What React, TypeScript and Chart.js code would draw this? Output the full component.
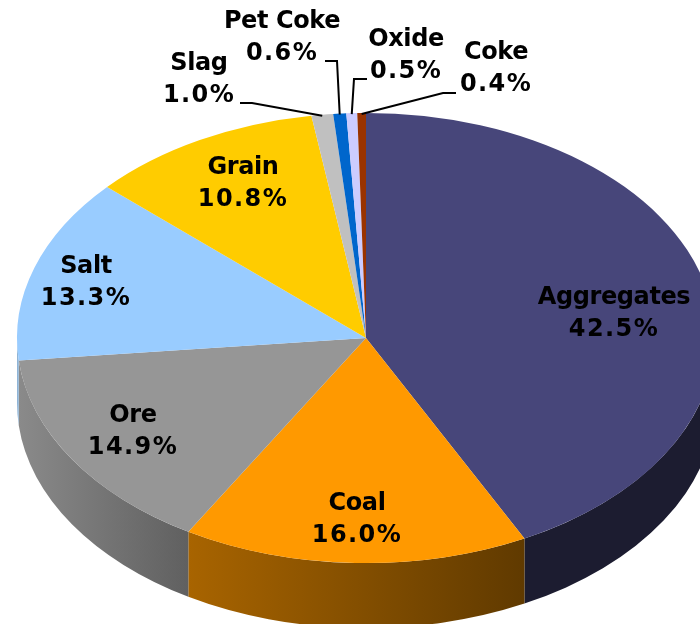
import React, { useEffect, useRef } from "react";
import { Chart, registerables } from "chart.js";

Chart.register(...registerables);

const categories = ["Aggregates", "Coal", "Ore", "Salt", "Grain", "Slag", "Pet Coke", "Oxide", "Coke"];
const shares = [42.5, 16.0, 14.9, 13.3, 10.8, 1.0, 0.6, 0.5, 0.4];
const topColors = ["#47467A", "#FF9900", "#969696", "#99CCFF", "#FFCC00", "#C0C0C0", "#0066CC", "#CCCCFF", "#993300"];
const wallLeft = ["#1C1C30", "#A86400", "#8A8A8A", "#8FB4D6", "#997A00", "#737373", "#003D7A", "#7A7A99", "#5C1F00"];
const wallRight = ["#1C1C30", "#603A00", "#606060", "#8FB4D6", "#997A00", "#737373", "#003D7A", "#7A7A99", "#5C1F00"];

// label anchor (centre x, first-line centre y)
const labelAnchors: [number, number][] = [
  [614, 298], [357, 504], [133, 416], [86, 267], [243, 168], [199, 64], [282, 22], [406, 40], [496, 53],
];
// leader polylines from label to slice rim; only the outer slices have one
const leaderElbows: ([number, number][] | null)[] = [
  null, null, null, null, null,
  [[240, 103], [252, 103]],
  [[325, 61], [337, 61]],
  [[367, 79], [354, 79]],
  [[456, 93], [443, 93]],
];

const SQUASH = 0.645;
const DEPTH = 65;
const LINE_GAP = 32;
const FONT = "bold 24px 'DejaVu Sans', sans-serif";

const pie3d = {
  id: "pie3d",
  beforeDatasetDraw(chart: any) {
    const { ctx } = chart;
    const arcs = chart.getDatasetMeta(0).data;
    ctx.save();
    arcs.forEach((arc: any, i: number) => {
      const { x, y, startAngle, endAngle, outerRadius } = arc;
      const ry = outerRadius * SQUASH;
      const a = Math.max(startAngle, 0);
      const b = Math.min(endAngle, Math.PI);
      if (b <= a) return;
      const g = ctx.createLinearGradient(x + outerRadius * Math.cos(b), 0, x + outerRadius * Math.cos(a), 0);
      g.addColorStop(0, wallLeft[i]);
      g.addColorStop(1, wallRight[i]);
      ctx.fillStyle = g;
      ctx.beginPath();
      ctx.ellipse(x, y, outerRadius, ry, 0, a, b);
      ctx.ellipse(x, y + DEPTH, outerRadius, ry, 0, b, a, true);
      ctx.closePath();
      ctx.fill();
    });
    ctx.restore();
    const first = arcs[0];
    ctx.save();
    ctx.translate(first.x, first.y);
    ctx.scale(1, SQUASH);
    ctx.translate(-first.x, -first.y);
  },
  afterDatasetDraw(chart: any) {
    chart.ctx.restore();
  },
  afterDraw(chart: any) {
    const { ctx } = chart;
    const arcs = chart.getDatasetMeta(0).data;
    ctx.save();
    ctx.strokeStyle = "#000";
    ctx.lineWidth = 2;
    arcs.forEach((arc: any, i: number) => {
      const elbow = leaderElbows[i];
      if (!elbow) return;
      const mid = (arc.startAngle + arc.endAngle) / 2;
      ctx.beginPath();
      ctx.moveTo(elbow[0][0], elbow[0][1]);
      ctx.lineTo(elbow[1][0], elbow[1][1]);
      ctx.lineTo(arc.x + arc.outerRadius * Math.cos(mid), arc.y + arc.outerRadius * SQUASH * Math.sin(mid) + 1);
      ctx.stroke();
    });
    ctx.fillStyle = "#000";
    ctx.font = FONT;
    ctx.textAlign = "center";
    ctx.textBaseline = "middle";
    categories.forEach((name, i) => {
      const [lx, ly] = labelAnchors[i];
      ctx.letterSpacing = "-0.4px";
      ctx.fillText(name, lx, ly);
      ctx.letterSpacing = "1.4px";
      ctx.fillText(shares[i].toFixed(1) + "%", lx, ly + LINE_GAP);
    });
    ctx.restore();
  },
};

export default function App() {
  const ref = useRef<HTMLCanvasElement>(null);
  useEffect(() => {
    const chart = new Chart(ref.current!, {
      type: "pie",
      data: {
        labels: categories,
        datasets: [{ data: shares, backgroundColor: topColors, borderWidth: 0, clip: false } as any],
      },
      options: {
        responsive: false,
        animation: false,
        events: [],
        radius: 349,
        layout: { padding: { left: 32, top: 52, right: 0, bottom: 0 } },
        plugins: { legend: { display: false }, tooltip: { enabled: false } },
      } as any,
      plugins: [pie3d],
    });
    return () => chart.destroy();
  }, []);
  return (
    <canvas
      ref={ref}
      width={700}
      height={624}
      style={{ position: "absolute", left: 0, top: 0, display: "block", width: 700, height: 624 }}
    />
  );
}
